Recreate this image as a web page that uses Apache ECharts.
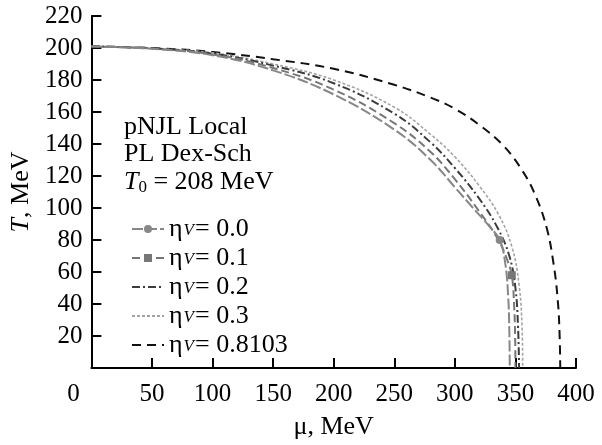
<!DOCTYPE html>
<html>
<head>
<meta charset="utf-8">
<script src="https://cdn.jsdelivr.net/npm/echarts@6/dist/echarts.min.js"></script>
<style>
  html, body { margin: 0; padding: 0; background: #fff; }
  #chart { width: 602px; height: 445px; }
</style>
</head>
<body>
<div id="chart"></div>
<script>
// Phase boundary T(mu) for several vector couplings eta_V
const etaLabels = ['0.0', '0.1', '0.2', '0.3', '0.8103'];

const curve00 = [[0,201],[50,199.5],[100,195.5],[150,186],[200,171],[250,149],[280,130],[300,113],[315,100],[328,89],[337,80],[341.5,66],[344,45],[345,22],[345.3,0]];
const curve01 = [[0,201],[50,199.6],[100,196],[150,187.5],[200,174],[250,153],[280,135],[300,118],[320,98],[336,80],[343,68],[347,58],[349,38],[349.8,18],[350,0]];
const curve02 = [[0,201],[50,199.8],[100,196.5],[150,189],[200,178],[250,159],[280,141],[300,125],[320,106],[335,88],[345,70],[350,50],[352.2,25],[353,0]];
const curve03 = [[0,201],[50,199.8],[100,197],[150,190],[200,180],[250,163],[280,146],[300,132],[320,114],[336,96],[347,76],[353,52],[355.5,25],[356,0]];
const curve08 = [[0,201],[50,200],[100,197.5],[150,193],[200,187],[250,177],[280,169],[300,162],[320,152],[340,139],[356,123],[367,107],[376,87],[381.5,65],[385,42],[386.5,20],[387,0]];

// points carrying a marker on the eta_V = 0.0 and 0.1 curves
const marker00 = [337, 80];
const marker01 = [347, 58];

const yTicks = { min: 0, max: 220, step: 20 };
const xTicks = { min: 0, max: 400, step: 50 };

const serif = 'Liberation Serif, Times New Roman, serif';
const FS = 26;

function withMarker(points, mark) {
  return points.map(p => {
    const hit = mark && p[0] === mark[0] && p[1] === mark[1];
    return hit ? { value: p } : { value: p, symbol: 'none' };
  });
}

const styles = [
  { data: curve00, mark: marker00, color: '#878787', type: [11, 3], width: 2, symbol: 'circle' },
  { data: curve01, mark: marker01, color: '#777777', type: [8, 4], width: 2, symbol: 'rect' },
  { data: curve02, mark: null, color: '#3c3c3c', type: [8, 3, 2, 3], width: 2, symbol: 'none' },
  { data: curve03, mark: null, color: '#a3a3a3', type: [3, 2], width: 1.6, symbol: 'none' },
  { data: curve08, mark: null, color: '#111111', type: [9, 6], width: 2, symbol: 'none' }
];

const names = etaLabels.map(v => 'η_V = ' + v);

const series = styles.map((s, i) => ({
  name: names[i],
  type: 'line',
  smooth: 0.4,
  symbol: s.symbol,
  symbolSize: 8,
  showSymbol: s.symbol !== 'none',
  showAllSymbol: true,
  itemStyle: { color: s.color },
  lineStyle: { color: s.color, width: s.width, type: s.type },
  data: s.symbol === 'none' ? s.data : withMarker(s.data, s.mark),
  animation: false,
  z: 5 - i
}));

const chart = echarts.init(document.getElementById('chart'));
chart.setOption({
  backgroundColor: '#fff',
  animation: false,
  grid: { left: 91, right: 26, top: 16, bottom: 69 },
  xAxis: {
    type: 'value',
    min: xTicks.min, max: xTicks.max, interval: xTicks.step,
    name: '{m|μ, MeV}',
    nameLocation: 'middle',
    nameGap: 46,
    nameTextStyle: { rich: { m: { fontFamily: serif, fontSize: FS, color: '#000' } } },
    axisLine: { lineStyle: { color: '#000', width: 2 } },
    axisTick: { inside: true, length: 10, lineStyle: { color: '#000', width: 2 } },
    axisLabel: {
      margin: 14, fontFamily: serif, fontSize: 25, color: '#000',
      formatter: v => v === 0 ? '{o|0}' : String(v),
      rich: { o: { fontFamily: serif, fontSize: 25, color: '#000', padding: [0, 36, 0, 0] } }
    },
    splitLine: { show: false }
  },
  yAxis: {
    type: 'value',
    min: yTicks.min, max: yTicks.max, interval: yTicks.step,
    name: '{t|T}{r|, MeV}',
    nameLocation: 'middle',
    nameGap: 56,
    nameRotate: 90,
    nameTextStyle: {
      rich: {
        t: { fontFamily: serif, fontSize: FS, fontStyle: 'italic', color: '#000' },
        r: { fontFamily: serif, fontSize: FS, color: '#000' }
      }
    },
    axisLine: { lineStyle: { color: '#000', width: 2 } },
    axisTick: { inside: true, length: 10, lineStyle: { color: '#000', width: 2 } },
    axisLabel: {
      margin: 9, fontFamily: serif, fontSize: 25, color: '#000',
      formatter: v => v === 0 ? '' : String(v)
    },
    splitLine: { show: false }
  },
  legend: {
    orient: 'vertical',
    left: 126, top: 211,
    itemWidth: 32, itemHeight: 10,
    itemGap: 3,
    data: names.map((n, i) => styles[i].symbol === 'none'
      ? { name: n, itemStyle: { opacity: 0 } }
      : { name: n }),
    formatter: n => {
      const val = n.split('= ')[1];
      return '{e|η}{s|V}{e|= ' + val + '}';
    },
    textStyle: {
      rich: {
        e: { fontFamily: serif, fontSize: FS, color: '#000', lineHeight: 20 },
        s: { fontFamily: serif, fontSize: 17, fontStyle: 'italic', color: '#000', lineHeight: 6, verticalAlign: 'bottom', padding: [0, 1, 0, 1] }
      }
    }
  },
  graphic: [
    { type: 'text', left: 124, top: 114, style: { text: 'pNJL Local', font: FS + 'px ' + serif, fill: '#000' } },
    { type: 'text', left: 124, top: 141, style: { text: 'PL Dex-Sch', font: FS + 'px ' + serif, fill: '#000' } },
    { type: 'text', left: 124, top: 169, style: {
        text: '{t|T}{z|0}{n| = 208 MeV}',
        rich: {
          t: { fontFamily: serif, fontSize: FS, fontStyle: 'italic', fill: '#000', lineHeight: 28 },
          z: { fontFamily: serif, fontSize: 17, fill: '#000', lineHeight: 8, verticalAlign: 'bottom' },
          n: { fontFamily: serif, fontSize: FS, fill: '#000', lineHeight: 28 }
        }
      } }
  ],
  series: series
});
</script>
</body>
</html>
